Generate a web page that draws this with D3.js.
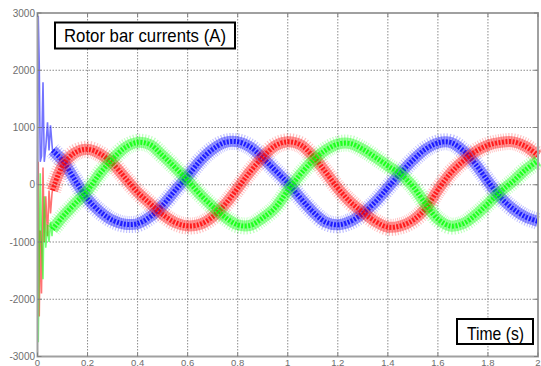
<!DOCTYPE html>
<html>
<head>
<meta charset="utf-8">
<script src="https://cdn.jsdelivr.net/npm/d3@7"></script>
<style>
  html, body { margin: 0; padding: 0; background: #fff; }
  svg { display: block; }
</style>
</head>
<body>
<script>
// ---- data ----
// start-up transient (thin spikes)
const tTransient = [0, 0.003, 0.007, 0.011, 0.016, 0.022, 0.027, 0.033, 0.040, 0.046, 0.052, 0.058, 0.06];
const blueTransient = [0, 2950, 2100, 400, 500, 1790, 400, 650, 1090, 600, 1040, 700, 600];
const redTransient = [0, 400, -2300, -800, -1900, 300, -1000, -200, -900, -100, -500, -150, -100];
const greenTransient = [0, -2750, -1200, 200, -1000, -1650, -200, -1100, -700, -1000, -650, -900, -780];

// steady part (band with ripple)
const tSteady = [0.06, 0.10, 0.15, 0.20, 0.25, 0.30, 0.35, 0.40, 0.45, 0.50, 0.55, 0.60, 0.65, 0.70, 0.75,
  0.80, 0.85, 0.90, 0.95, 1.00, 1.05, 1.10, 1.15, 1.20, 1.25, 1.30, 1.35, 1.40, 1.45, 1.50, 1.55,
  1.60, 1.65, 1.70, 1.75, 1.80, 1.85, 1.90, 1.95, 2.00];
const blueSteady = [600, 420, 80, -250, -470, -620, -690, -680, -560, -360, -100, 150, 420, 620, 740,
  750, 660, 470, 250, 30, -230, -470, -650, -700, -640, -500, -300, -50, 200, 430, 620,
  730, 740, 600, 360, 60, -220, -420, -560, -640];
const redSteady = [-100, 330, 560, 620, 540, 370, 120, -130, -330, -520, -660, -720, -690, -560, -340,
  -60, 230, 480, 680, 750, 700, 500, 230, -60, -300, -480, -640, -740, -720, -620, -420,
  -90, 200, 410, 580, 690, 740, 750, 670, 510];
const greenSteady = [-780, -560, -330, -100, 200, 450, 650, 740, 700, 510, 300, 75, -170, -380, -570,
  -700, -710, -580, -400, -100, 180, 420, 600, 710, 720, 620, 480, 330, 190, -30, -330,
  -600, -720, -680, -530, -330, -120, 60, 260, 420];

const xTicks = [0, 0.2, 0.4, 0.6, 0.8, 1, 1.2, 1.4, 1.6, 1.8, 2];
const xTickLabels = ['0', '0.2', '0.4', '0.6', '0.8', '1', '1.2', '1.4', '1.6', '1.8', '2'];
const yTicks = [-3000, -2000, -1000, 0, 1000, 2000, 3000];
const yTickLabels = ['-3000', '-2000', '-1000', '0', '1000', '2000', '3000'];

const titleText = 'Rotor bar currents (A)';
const xLabelText = 'Time (s)';

// ---- layout ----
const width = 541, height = 366;
const plotLeft = 37.5, plotRight = 538, plotTop = 13, plotBottom = 356.5;

const svg = d3.select('body').append('svg')
  .attr('width', width)
  .attr('height', height);

svg.append('rect').attr('width', width).attr('height', height).attr('fill', '#fff');

const x = d3.scaleLinear().domain([0, 2]).range([plotLeft, plotRight]);
const y = d3.scaleLinear().domain([-3000, 3000]).range([plotBottom, plotTop]);

// grid
const grid = svg.append('g');
grid.selectAll('line.vx')
  .data(xTicks.slice(1, -1))
  .enter().append('line')
  .attr('x1', d => x(d)).attr('x2', d => x(d))
  .attr('y1', plotTop).attr('y2', plotBottom)
  .attr('stroke', '#8a8a8a').attr('stroke-width', 1)
  .attr('stroke-dasharray', '1.5,1.5');
grid.selectAll('line.hy')
  .data(yTicks.slice(1, -1))
  .enter().append('line')
  .attr('x1', plotLeft).attr('x2', plotRight)
  .attr('y1', d => y(d)).attr('y2', d => y(d))
  .attr('stroke', '#8a8a8a').attr('stroke-width', 1)
  .attr('stroke-dasharray', '1.5,1.5');

// curves
const line = d3.line()
  .x(d => x(d[0]))
  .y(d => y(d[1]))
  .curve(d3.curveCatmullRom.alpha(0.5));

const linear = d3.line()
  .x(d => x(d[0]))
  .y(d => y(d[1]));

const series = [
  { color: '#0000ff', tr: blueTransient, st: blueSteady },
  { color: '#ff0000', tr: redTransient, st: redSteady },
  { color: '#00ff00', tr: greenTransient, st: greenSteady }
];

const plot = svg.append('g');

series.forEach(s => {
  plot.append('path')
    .datum(tTransient.map((t, i) => [t, s.tr[i]]))
    .attr('d', linear)
    .attr('fill', 'none')
    .attr('stroke', s.color)
    .attr('stroke-opacity', 0.55)
    .attr('stroke-width', 1.6);
});

series.forEach(s => {
  const pts = tSteady.map((t, i) => [t, s.st[i]]);
  // outer ripple halo
  plot.append('path')
    .datum(pts)
    .attr('d', line)
    .attr('fill', 'none')
    .attr('stroke', s.color)
    .attr('stroke-opacity', 0.25)
    .attr('stroke-width', 17)
    .attr('stroke-dasharray', '1,1.4');
  plot.append('path')
    .datum(pts)
    .attr('d', line)
    .attr('fill', 'none')
    .attr('stroke', s.color)
    .attr('stroke-opacity', 0.4)
    .attr('stroke-width', 11);
  plot.append('path')
    .datum(pts)
    .attr('d', line)
    .attr('fill', 'none')
    .attr('stroke', s.color)
    .attr('stroke-opacity', 0.8)
    .attr('stroke-width', 5)
    .attr('stroke-dasharray', '2,1.5');
});

// axes box
svg.append('rect')
  .attr('x', plotLeft).attr('y', plotTop)
  .attr('width', plotRight - plotLeft).attr('height', plotBottom - plotTop)
  .attr('fill', 'none')
  .attr('stroke', '#a0a0a0')
  .attr('stroke-width', 2);

// inner ticks
const tickG = svg.append('g').attr('stroke', '#808080').attr('stroke-width', 1);
xTicks.forEach(d => {
  tickG.append('line').attr('x1', x(d)).attr('x2', x(d)).attr('y1', plotTop).attr('y2', plotTop + 4);
  tickG.append('line').attr('x1', x(d)).attr('x2', x(d)).attr('y1', plotBottom).attr('y2', plotBottom - 4);
});
yTicks.forEach(d => {
  tickG.append('line').attr('x1', plotLeft).attr('x2', plotLeft + 4).attr('y1', y(d)).attr('y2', y(d));
  tickG.append('line').attr('x1', plotRight).attr('x2', plotRight - 4).attr('y1', y(d)).attr('y2', y(d));
});

// tick labels
svg.append('g')
  .selectAll('text')
  .data(yTicks)
  .enter().append('text')
  .attr('x', plotLeft - 2.5)
  .attr('y', d => y(d))
  .attr('dy', '0.35em')
  .attr('text-anchor', 'end')
  .attr('font-family', 'Liberation Sans, Arial, sans-serif')
  .attr('font-size', 10)
  .attr('fill', '#6e6e6e')
  .text((d, i) => yTickLabels[i]);

svg.append('g')
  .selectAll('text')
  .data(xTicks)
  .enter().append('text')
  .attr('x', d => x(d))
  .attr('y', 365.5)
  .attr('text-anchor', 'middle')
  .attr('font-family', 'Liberation Sans, Arial, sans-serif')
  .attr('font-size', 9.5)
  .attr('fill', '#6e6e6e')
  .text((d, i) => xTickLabels[i]);

// label boxes
function labelBox(bx, by, bw, bh, tx, ty, tlen, txt) {
  svg.append('rect')
    .attr('x', bx).attr('y', by)
    .attr('width', bw).attr('height', bh)
    .attr('fill', '#fff')
    .attr('stroke', '#000')
    .attr('stroke-width', 2);
  svg.append('text')
    .attr('x', tx).attr('y', ty)
    .attr('text-anchor', 'middle')
    .attr('font-family', 'Liberation Sans Narrow, Arial Narrow, Liberation Sans, Arial, sans-serif')
    .attr('font-size', 19)
    .attr('fill', '#000')
    .attr('textLength', tlen)
    .attr('lengthAdjust', 'spacingAndGlyphs')
    .text(txt);
}
labelBox(55, 22.5, 180, 26, 145, 42, 162, titleText);
labelBox(457, 319, 76, 25, 495.5, 340, 57, xLabelText);
</script>
</body>
</html>
